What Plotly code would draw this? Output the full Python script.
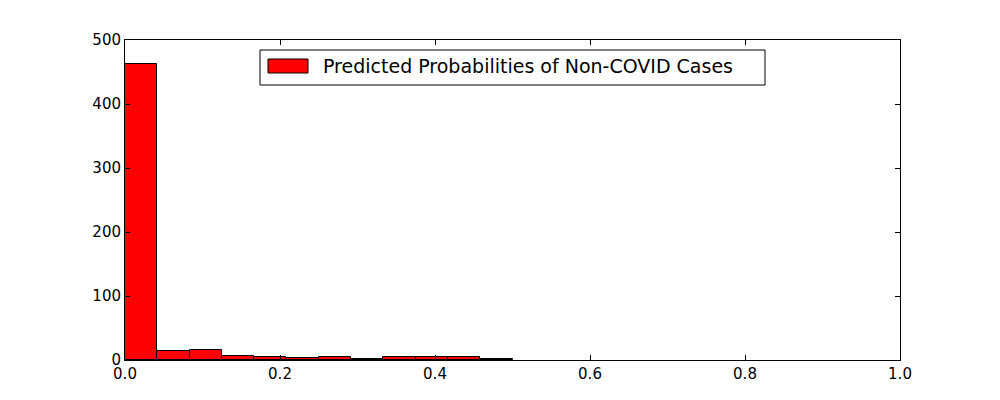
import plotly.graph_objects as go

# Histogram data (12 bins from 0 to 0.5)
bin_edges = [i * 0.5 / 12 for i in range(13)]
counts = [463, 14, 16, 6, 5, 3, 5, 1, 5, 5, 5, 1]
legend_label = "Predicted Probabilities of Non-COVID Cases"
x_ticks = [0.0, 0.2, 0.4, 0.6, 0.8, 1.0]
x_tick_text = ["0.0", "0.2", "0.4", "0.6", "0.8", "1.0"]
y_ticks = [0, 100, 200, 300, 400, 500]

centers = [(bin_edges[i] + bin_edges[i + 1]) / 2 for i in range(len(counts))]
widths = [bin_edges[i + 1] - bin_edges[i] for i in range(len(counts))]

fig = go.Figure()
fig.add_trace(go.Bar(
    x=centers, y=counts, width=widths,
    marker=dict(color="#ff0000", line=dict(color="black", width=1)),
    name=legend_label, showlegend=False,
))

# page offset of ~8px (body margin) compensated
OFF = 8
L, R, T, B = 125 - OFF, 900 - OFF, 40 - OFF, 360 - OFF
def px(x):
    return (x - OFF - L) / (R - L)
def py(y):
    return (B - (y - OFF)) / (B - T)

shapes = [
    dict(type="rect", xref="paper", yref="paper",
         x0=px(260), x1=px(765), y0=py(85), y1=py(50),
         line=dict(color="black", width=1), fillcolor="white", layer="above"),
    dict(type="rect", xref="paper", yref="paper",
         x0=px(268), x1=px(308), y0=py(73), y1=py(59),
         line=dict(color="black", width=1), fillcolor="#ff0000", layer="above"),
]
annotations = [
    dict(xref="paper", yref="paper", x=px(321), y=py(66), text=legend_label,
         showarrow=False, xanchor="left", yanchor="middle",
         font=dict(family="DejaVu Sans", size=19, color="black")),
]

axis_common = dict(
    showline=True, linecolor="black", linewidth=1, mirror="ticks",
    ticks="inside", ticklen=5, tickcolor="black", showgrid=False, zeroline=False,
    tickfont=dict(family="DejaVu Sans", size=15, color="black"),
)

fig.update_layout(
    width=1000, height=400,
    margin=dict(l=L, r=1000 - R, t=T, b=400 - B, pad=0),
    paper_bgcolor="white", plot_bgcolor="white",
    bargap=0,
    xaxis=dict(range=[0, 1], tickvals=x_ticks, ticktext=x_tick_text, **axis_common),
    yaxis=dict(range=[0, 500], tickvals=y_ticks, **axis_common),
    shapes=shapes, annotations=annotations,
)

fig.write_html("out.html")
